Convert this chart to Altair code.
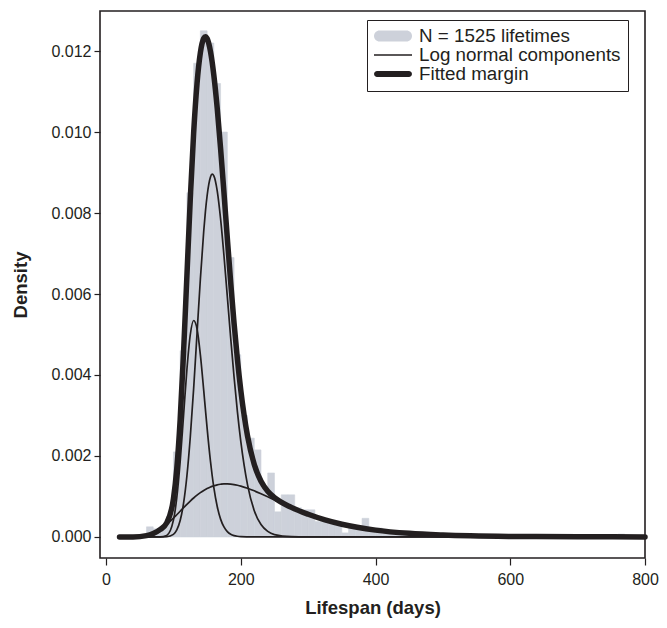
import altair as alt
import pandas as pd

# ---- data ----
days = [20, 40, 60, 70, 80, 90, 100, 105, 110, 115, 120, 125, 130, 135, 140, 145, 147.5,
        150, 155, 157.5, 160, 165, 170, 175, 180, 185, 190, 195, 200, 210, 220, 230, 240,
        250, 275, 300, 325, 350, 400, 450, 500, 600, 700, 800]

comp_a = [0, 0, 0, 0, 0.000001, 0.000037, 0.000414, 0.000969, 0.001858, 0.002993, 0.004137,
          0.004994, 0.005346, 0.005142, 0.004498, 0.003612, 0.003144, 0.002687, 0.001865,
          0.001518, 0.001217, 0.000752, 0.00044, 0.000247, 0.000133, 0.000069, 0.000034,
          0.000017, 0.000008, 0.000002, 0, 0, 0, 0, 0, 0, 0, 0, 0, 0, 0, 0, 0, 0]

comp_b = [0, 0, 0, 0, 0, 0.000005, 0.000064, 0.000173, 0.000405, 0.000828, 0.001505,
          0.002461, 0.003664, 0.005019, 0.00637, 0.007555, 0.00804, 0.008427, 0.008891,
          0.00896, 0.00892, 0.008548, 0.007855, 0.00695, 0.005935, 0.004912, 0.00395,
          0.003089, 0.002359, 0.001287, 0.000649, 0.000307, 0.000137, 0.000058, 0.000006,
          0.000001, 0, 0, 0, 0, 0, 0, 0, 0]

comp_c = [0, 0.000001, 0.000033, 0.000086, 0.000178, 0.000306, 0.000463, 0.000549, 0.000635,
          0.000721, 0.000806, 0.000886, 0.000962, 0.001032, 0.001094, 0.001149, 0.001173,
          0.001195, 0.001234, 0.00125, 0.001264, 0.001287, 0.001301, 0.001309, 0.001309,
          0.001304, 0.001293, 0.001276, 0.001256, 0.001203, 0.001139, 0.001067, 0.000991,
          0.000913, 0.000725, 0.000559, 0.000422, 0.000314, 0.000169, 0.000089, 0.000047,
          0.000013, 0.000004, 0.000001]

margin = [0, 0.000001, 0.000033, 0.000086, 0.000179, 0.000348, 0.000941, 0.001691, 0.002898,
          0.004542, 0.006448, 0.008341, 0.009972, 0.011193, 0.011962, 0.012316, 0.012357,
          0.012309, 0.01199, 0.011728, 0.011401, 0.010587, 0.009596, 0.008506, 0.007377,
          0.006285, 0.005277, 0.004382, 0.003623, 0.002492, 0.001788, 0.001374, 0.001128,
          0.000971, 0.000731, 0.00056, 0.000422, 0.000314, 0.000169, 0.000089, 0.000047,
          0.000013, 0.000004, 0.000001]

bin_left = [60, 70, 80, 90, 100, 110, 120, 130, 140, 150, 160, 170, 180, 190, 200, 210, 220,
            230, 240, 250, 260, 270, 280, 290, 300, 310, 320, 330, 340, 350, 360, 370, 380,
            390, 400, 410, 420, 430, 440, 450, 470, 490, 520, 760]
bin_density = [0.00025, 0.0002, 0.00026, 0.0005, 0.0021, 0.0046, 0.0085, 0.0117, 0.0125,
               0.0122, 0.0112, 0.0100, 0.0069, 0.0045, 0.0030, 0.00244, 0.00215, 0.0012,
               0.00158, 0.00062, 0.00104, 0.00104, 0.00072, 0.00067, 0.00067, 0.00038,
               0.00038, 0.00036, 0.00036, 0.0001, 0.00024, 0.00024, 0.00046, 0.00022,
               0.00022, 0.00013, 0.00013, 0.00007, 0.00007, 0.00007, 0.00007, 0.00007,
               0.00007, 0.00007]
BIN_WIDTH = 10

legend_labels = ["N = 1525 lifetimes", "Log normal components", "Fitted margin"]
x_ticks = [0, 200, 400, 600, 800]
y_ticks = [0.0, 0.002, 0.004, 0.006, 0.008, 0.010, 0.012]

# ---- styling ----
INK = "#231f20"
GRAY = "#cdd1da"
FONT = "Liberation Sans"

sym_hist = "M-0.71,-0.29L0.71,-0.29A0.29,0.29 0 0 1 0.71,0.29L-0.71,0.29A0.29,0.29 0 0 1 -0.71,-0.29Z"
sym_thin = "M-1,-0.042L1,-0.042L1,0.042L-1,0.042Z"
sym_thick = "M-0.84,-0.158L0.84,-0.158A0.158,0.158 0 0 1 0.84,0.158L-0.84,0.158A0.158,0.158 0 0 1 -0.84,-0.158Z"

hist = pd.DataFrame({"start": bin_left,
                     "end": [b + BIN_WIDTH for b in bin_left],
                     "density": bin_density})
n = len(days)
comps = pd.DataFrame({"day": days * 3,
                      "density": comp_a + comp_b + comp_c,
                      "comp": ["a"] * n + ["b"] * n + ["c"] * n})
marg = pd.DataFrame({"day": days, "density": margin})
leg = pd.DataFrame({"label": legend_labels})

xs = alt.Scale(domain=[-9, 800], nice=False, zero=False)
ys = alt.Scale(domain=[-0.00052, 0.01299], nice=False, zero=False)

x_axis = alt.Axis(values=x_ticks, title="Lifespan (days)", tickSize=7, labelPadding=6,
                  labelFontSize=16, titleFontSize=18.5, titleFontWeight="bold",
                  titlePadding=11, format="d", labelFlush=False)
y_axis = alt.Axis(values=y_ticks, title="Density", tickSize=6, labelPadding=3,
                  labelFontSize=16, titleFontSize=18.5, titleFontWeight="bold",
                  titlePadding=20, format=".3f", labelFlush=False)

bars = alt.Chart(hist).mark_rect(color=GRAY, stroke=GRAY, strokeWidth=0.6).encode(
    x=alt.X("start:Q", scale=xs, axis=x_axis),
    x2="end:Q",
    y=alt.Y("density:Q", scale=ys, axis=y_axis),
    y2=alt.datum(0),
)

comp_lines = alt.Chart(comps).mark_line(color=INK, strokeWidth=1.7, interpolate="monotone").encode(
    x=alt.X("day:Q", scale=xs, axis=x_axis),
    y=alt.Y("density:Q", scale=ys, axis=y_axis),
    detail="comp:N",
)

margin_line = alt.Chart(marg).mark_line(color=INK, strokeWidth=5.5, interpolate="monotone",
                                        strokeCap="round").encode(
    x=alt.X("day:Q", scale=xs, axis=x_axis),
    y=alt.Y("density:Q", scale=ys, axis=y_axis),
)

legend = alt.Legend(title=None, orient="none", legendX=267, legendY=9,
                    labelFont=FONT, labelFontSize=18.8, labelColor=INK, labelOffset=7,
                    labelLimit=400, strokeColor=INK, fillColor="white", padding=7,
                    symbolSize=1444, symbolStrokeWidth=0, symbolOpacity=1,
                    rowPadding=0, clipHeight=18)

legend_layer = alt.Chart(leg).transform_filter("false").mark_point(filled=True, opacity=1).encode(
    color=alt.Color("label:N", scale=alt.Scale(domain=legend_labels, range=[GRAY, INK, INK]),
                    legend=legend),
    shape=alt.Shape("label:N", scale=alt.Scale(domain=legend_labels,
                                               range=[sym_hist, sym_thin, sym_thick]),
                    legend=legend),
)

chart = alt.layer(bars, comp_lines, margin_line, legend_layer).properties(
    width=545, height=547,
    padding={"left": 92, "top": 3, "right": 14, "bottom": 64},
    autosize=alt.AutoSizeParams(type="none"),
).configure_axis(
    labelFont=FONT, titleFont=FONT, labelColor=INK, titleColor=INK, tickColor=INK,
    tickWidth=1.2, domain=False, grid=False,
).configure_view(stroke=INK, strokeWidth=1.6)

chart.save("out.html", embed_options={"renderer": "svg", "actions": False})
